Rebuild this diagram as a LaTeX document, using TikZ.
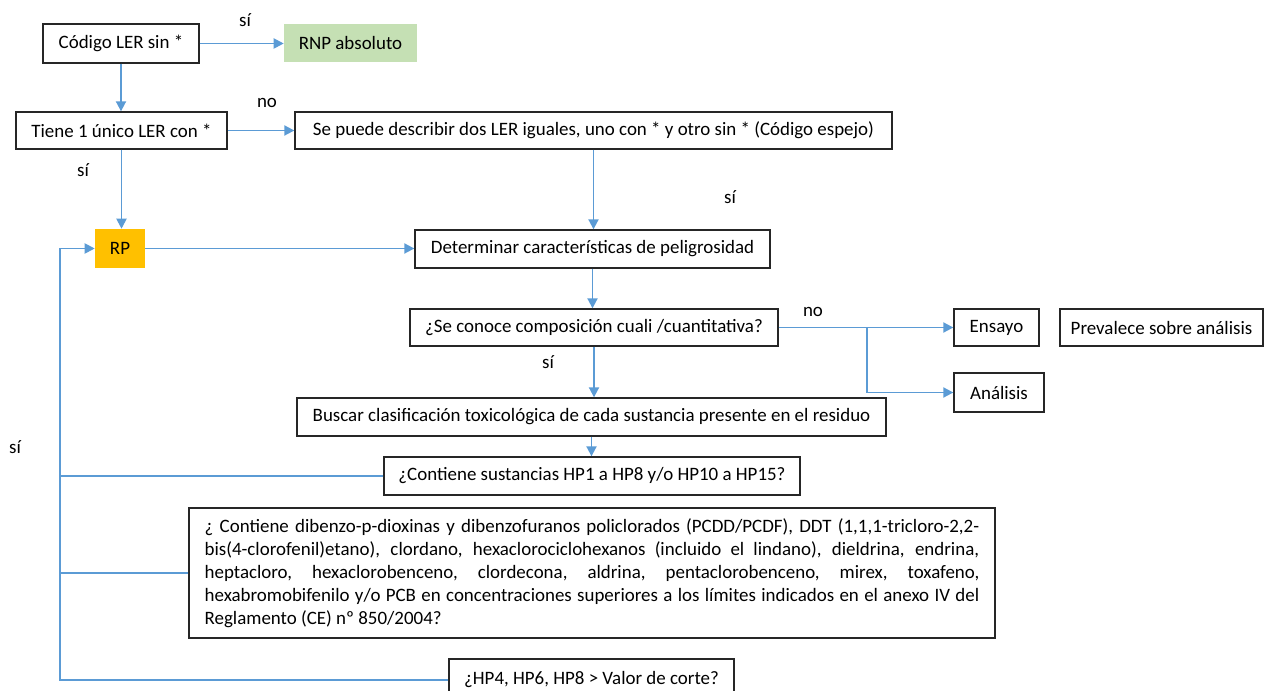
\documentclass[tikz,border=0pt]{standalone}
\usepackage{fontspec}
\setmainfont{Carlito}
\usetikzlibrary{arrows.meta}
\definecolor{arrc}{HTML}{5B9BD5}
\definecolor{rnpg}{HTML}{C5E0B4}
\definecolor{rpy}{HTML}{FFC000}
\definecolor{bord}{HTML}{262626}
\newcommand{\jline}[1]{\makebox[581pt][s]{#1}}
\newcommand{\fsz}{\fontsize{14.2}{17.3}\selectfont}
\begin{document}
\begin{tikzpicture}[x=0.75pt,y=-0.75pt,
  box/.style={draw=bord, line width=1pt, inner sep=0pt, font=\fsz},
  fillbox/.style={inner sep=0pt, font=\fsz},
  lab/.style={font=\fsz, inner sep=0pt},
  arr/.style={draw=arrc, line width=1.4pt, -{Triangle[width=7.5pt,length=7.5pt]}},
  ln/.style={draw=arrc, line width=1.4pt}]
\useasboundingbox (0,0) rectangle (1264,691);

% nodes
\node[box, minimum width=117pt, minimum height=29.25pt] (cod) at (121,43.5) {Código LER sin *};
\node[fillbox, fill=rnpg, minimum width=99.75pt, minimum height=28.5pt] (rnp) at (350.5,43) {RNP absoluto};
\node[box, minimum width=158.25pt, minimum height=27.75pt] (tiene) at (121.5,130.5) {Tiene 1 único LER con *};
\node[box, minimum width=447.75pt, minimum height=27.75pt] (sep) at (593.5,130.5) {Se puede describir dos LER iguales, uno con * y otro sin * (Código espejo)};
\node[fillbox, fill=rpy, minimum width=37.5pt, minimum height=29.25pt] (rp) at (120,248.5) {RP};
\node[box, minimum width=266.25pt, minimum height=28.5pt] (det) at (592.5,249) {Determinar características de peligrosidad};
\node[box, minimum width=276pt, minimum height=27.75pt] (sec) at (594,327.5) {¿Se conoce composición cuali /cuantitativa?};
\node[box, minimum width=63.75pt, minimum height=27.75pt] (ens) at (996.5,327.5) {Ensayo};
\node[box, minimum width=152.25pt, minimum height=27.75pt] (prev) at (1161.5,327.5) {Prevalece sobre análisis};
\node[box, minimum width=67.5pt, minimum height=29.25pt] (ana) at (999,392.5) {Análisis};
\node[box, minimum width=441.75pt, minimum height=28.5pt] (bus) at (591.5,417) {Buscar clasificación toxicológica de cada sustancia presente en el residuo};
\node[box, minimum width=312pt, minimum height=28.5pt] (hp) at (592,476) {¿Contiene sustancias HP1 a HP8 y/o HP10 a HP15?};
\node[box, minimum width=604.5pt, minimum height=97.5pt] (big) at (592,573) {\parbox{581pt}{\fsz
\jline{¿ Contiene dibenzo-p-dioxinas y dibenzofuranos policlorados (PCDD/PCDF), DDT (1,1,1-tricloro-2,2-}\\
\jline{bis(4-clorofenil)etano), clordano, hexaclorociclohexanos (incluido el lindano), dieldrina, endrina,}\\
\jline{heptacloro, hexaclorobenceno, clordecona, aldrina, pentaclorobenceno, mirex, toxafeno,}\\
\jline{hexabromobifenilo y/o PCB en concentraciones superiores a los límites indicados en el anexo IV del}\\
Reglamento (CE) nº 850/2004?}};
\node[box, minimum width=213.75pt, minimum height=31.5pt] (bot) at (591.5,680) {¿HP4, HP6, HP8 > Valor de corte?};

% labels
\node[lab] (l1) at (245,20) {sí};
\node[lab] (l2) at (267,103) {no};
\node[lab] (l3) at (83,170) {sí};
\node[lab] (l4) at (730,197) {sí};
\node[lab] (l5) at (813,312) {no};
\node[lab] (l6) at (548,362) {sí};
\node[lab] (l7) at (15,447) {sí};

% connectors
\coordinate (lp) at (60,0);
\coordinate (br) at (867,0);
\draw[arr] (cod.east) -- (cod.east -| rnp.west);
\draw[arr] (cod.south) -- (cod.south |- tiene.north);
\draw[arr] (tiene.east) -- (tiene.east -| sep.west);
\draw[arr] (tiene.south) -- (tiene.south |- rp.north);
\draw[arr] (sep.south) -- (sep.south |- det.north);
\draw[arr] (rp.east) -- (rp.east -| det.west);
\draw[arr] (det.south) -- (det.south |- sec.north);
\draw[arr] (sec.south) -- (sec.south |- bus.north);
\draw[arr] (bus.south) -- (bus.south |- hp.north);
\draw[arr] (sec.east) -- (ens.west);
\draw[arr] (sec.east -| br) |- (ana.west);
\draw[ln] (hp.west) -- (hp.west -| lp);
\draw[ln] (big.west) -- (big.west -| lp);
\draw[arr] (bot.west) -- (bot.west -| lp) |- (rp.west);
\end{tikzpicture}
\end{document}
